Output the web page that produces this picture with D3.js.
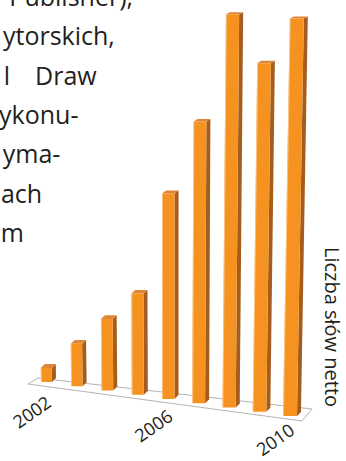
<!DOCTYPE html>
<html>
<head>
<meta charset="utf-8">
<script src="https://cdn.jsdelivr.net/npm/d3@7"></script>
<style>
  html, body { margin: 0; padding: 0; background: #fff; overflow: hidden; }
  svg { display: block; }
</style>
</head>
<body>
<svg id="chart" width="346" height="461"></svg>
<script>
// Net word counts per year (relative units)
const years = [2002, 2003, 2004, 2005, 2006, 2007, 2008, 2009, 2010];
const netWords = [14, 41, 67, 92, 181, 241, 327, 282, 313];
const yearTicks = [2002, 2006, 2010];
const axisTitle = "Liczba słów netto";
// Running text that wraps around the chart
const bodyLines = ["Publisher),", "ytorskich,", ["l", "Draw"], "ykonu-", "yma-", "ach", "m"];

const svg = d3.select("#chart");

// Perspective floor layout: bars advance toward the viewer from left to right
const xFront = d3.scalePoint().domain(years).range([41, 283]);
const yFloor = d3.scalePoint().domain(years).range([382, 416]);
const depth = d3.scaleLinear().domain([years[0], years[years.length - 1]]).range([1, 1.27]);
const hScale = d3.scaleLinear().domain([0, 100]).range([0, 100]);
const baseWidth = 11;
const leanK = 1.4e-4, vanishX = 160;

const bars = years.map((yr, i) => {
  const s = depth(yr);
  const x0 = xFront(yr);
  const yb = yFloor(yr);
  const w = baseWidth * s;
  const h = hScale(netWords[i]) * s;
  const lean = (x0 - vanishX) * h * leanK;
  const yt = yb - h;
  const dx = 4;
  const dyTop = -(4 - 0.005 * h);
  const dyBot = -4;
  return { yr, s, x0, yb, w, h, lean, yt, dx, dyTop, dyBot };
});

// Floor plate
const first = bars[0], last = bars[bars.length - 1];
const FL = [first.x0 - 13, first.yb + 2];
const BL = [FL[0] + 10, FL[1] - 6];
const FR = [last.x0 + last.w + 5, last.yb + 5];
const BR = [FR[0] + 10, FR[1] - 12];
svg.append("polygon")
  .attr("points", [FL, BL, BR, FR].map(p => p.join(",")).join(" "))
  .attr("fill", "#ffffff")
  .attr("stroke", "#b4b4b4")
  .attr("stroke-width", 1);

const backEdgeY = x => BL[1] + (BR[1] - BL[1]) * (x - BL[0]) / (BR[0] - BL[0]);

// Bars
const g = svg.append("g").attr("class", "bars");
const pts = arr => arr.map(p => p.join(",")).join(" ");
bars.forEach(b => {
  const bar = g.append("g");
  // side face
  bar.append("polygon")
    .attr("points", pts([
      [b.x0 + b.w, b.yb],
      [b.x0 + b.w + b.dx, b.yb + b.dyBot],
      [b.x0 + b.w + b.lean + b.dx, b.yt + b.dyTop],
      [b.x0 + b.w + b.lean, b.yt]
    ]))
    .attr("fill", "#a55d1c");
  // top face
  bar.append("polygon")
    .attr("points", pts([
      [b.x0 + b.lean, b.yt],
      [b.x0 + b.w + b.lean, b.yt],
      [b.x0 + b.w + b.lean + b.dx, b.yt + b.dyTop],
      [b.x0 + b.lean + b.dx, b.yt + b.dyTop]
    ]))
    .attr("fill", "#df8638");
  // front face
  bar.append("polygon")
    .attr("points", pts([
      [b.x0, b.yb],
      [b.x0 + b.w, b.yb],
      [b.x0 + b.w + b.lean, b.yt],
      [b.x0 + b.lean, b.yt]
    ]))
    .attr("fill", "#f6921f");
  // soft highlight along the left edge
  bar.append("line")
    .attr("x1", b.x0 + 0.4).attr("y1", b.yb)
    .attr("x2", b.x0 + b.lean + 0.4).attr("y2", b.yt)
    .attr("stroke", "#fbcf9a").attr("stroke-width", 0.8);
});

// Year labels
const labelFont = "'Open Sans', 'Noto Sans', sans-serif";
svg.append("g").selectAll("text")
  .data(yearTicks)
  .join("text")
  .attr("transform", d => {
    const b = bars[years.indexOf(d)];
    const ax = b.x0 + b.w / 2 + 6;
    return `translate(${ax},${backEdgeY(ax) + 26}) rotate(-35)`;
  })
  .attr("text-anchor", "end")
  .attr("font-family", labelFont)
  .attr("font-size", 18)
  .attr("fill", "#231f20")
  .text(d => d);

// Vertical title on the right
svg.append("text")
  .attr("transform", "translate(324.5,327) rotate(90)")
  .attr("text-anchor", "middle")
  .attr("font-family", labelFont)
  .attr("font-size", 20)
  .attr("fill", "#231f20")
  .text(axisTitle);

// Body text, right edge following the chart's diagonal
const lineRight = d3.scaleLinear().domain([0, bodyLines.length - 1]).range([133, 24]);
const lineBase = d3.scaleLinear().domain([0, bodyLines.length - 1]).range([6, 242]);
const body = svg.append("g")
  .attr("font-family", labelFont)
  .attr("font-size", 25)
  .attr("fill", "#231f20");
bodyLines.forEach((ln, i) => {
  if (Array.isArray(ln)) {
    body.append("text").attr("x", 10).attr("y", lineBase(i))
      .attr("text-anchor", "end").text(ln[0]);
    body.append("text").attr("x", lineRight(i)).attr("y", lineBase(i))
      .attr("text-anchor", "end").text(ln[1]);
  } else {
    body.append("text").attr("x", lineRight(i)).attr("y", lineBase(i))
      .attr("text-anchor", "end").text(ln);
  }
});
</script>
</body>
</html>
